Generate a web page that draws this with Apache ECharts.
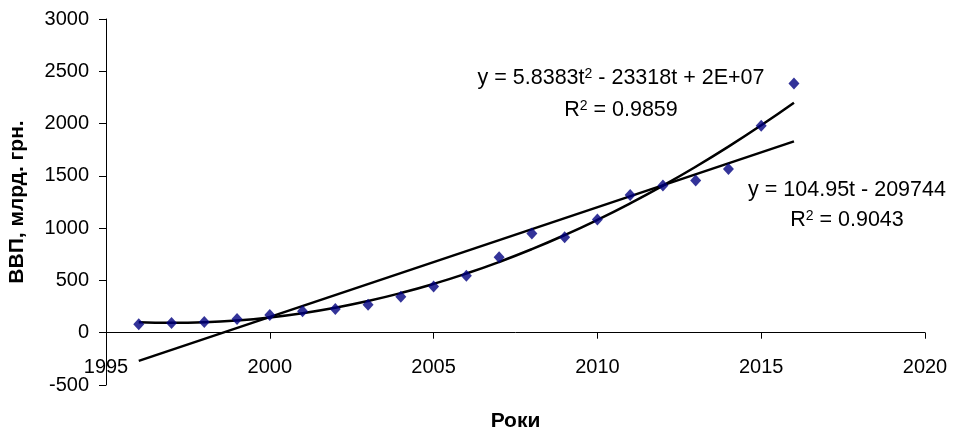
<!DOCTYPE html>
<html>
<head>
<meta charset="utf-8">
<script src="https://cdn.jsdelivr.net/npm/echarts@6/dist/echarts.min.js"></script>
<style>html,body{margin:0;padding:0;background:#fff}#c{width:953px;height:434px}</style>
</head>
<body>
<div id="c"></div>
<script>
// ---- data ----
var years = [1996,1997,1998,1999,2000,2001,2002,2003,2004,2005,2006,2007,2008,2009,2010,2011,2012,2013,2014,2015,2016];
var gdp = [81.5,93.4,102.6,130.4,170.1,204.2,225.8,267.3,345.1,441.5,544.2,720.7,948.1,913.3,1082.6,1316.6,1408.9,1454.9,1566.7,1979.5,2383.2];
var xTicks = [1995, 2020, 5];
var yTicks = [-500, 3000, 500];
var polyEq = ['y = 5.8383t{sup|2} - 23318t + 2E+07', 'R{sup|2} = 0.9859'];
var linEq = ['y = 104.95t - 209744', 'R{sup|2} = 0.9043'];
var xName = 'Роки';
var yName = 'ВВП, млрд. грн.';

// ---- least squares trend lines (computed from data) ----
function solve3(A, b) {
  var M = A.map(function (r, i) { return r.concat([b[i]]); });
  var n = 3;
  for (var i = 0; i < n; i++) {
    var p = i;
    for (var k = i + 1; k < n; k++) if (Math.abs(M[k][i]) > Math.abs(M[p][i])) p = k;
    var t = M[i]; M[i] = M[p]; M[p] = t;
    for (var k2 = i + 1; k2 < n; k2++) {
      var f = M[k2][i] / M[i][i];
      for (var j = i; j <= n; j++) M[k2][j] -= f * M[i][j];
    }
  }
  var x = [0, 0, 0];
  for (var i2 = n - 1; i2 >= 0; i2--) {
    var s = M[i2][n];
    for (var j2 = i2 + 1; j2 < n; j2++) s -= M[i2][j2] * x[j2];
    x[i2] = s / M[i2][i2];
  }
  return x;
}
var t0 = 2006;
var n = years.length;
var S = [0,0,0,0,0], T = [0,0,0];
for (var i = 0; i < n; i++) {
  var u = years[i] - t0;
  for (var p = 0; p < 5; p++) S[p] += Math.pow(u, p);
  for (var q = 0; q < 3; q++) T[q] += gdp[i] * Math.pow(u, q);
}
var slope = (n * T[1] - S[1] * T[0]) / (n * S[2] - S[1] * S[1]);
var icpt = (T[0] - slope * S[1]) / n;
var linData = [years[0], years[n - 1]].map(function (y) { return [y, icpt + slope * (y - t0)]; });
var c = solve3([[S[0], S[1], S[2]], [S[1], S[2], S[3]], [S[2], S[3], S[4]]], [T[0], T[1], T[2]]);
var polyData = years.map(function (y) { var u = y - t0; return [y, c[0] + c[1] * u + c[2] * u * u]; });

var pts = years.map(function (y, i) { return [y, gdp[i]]; });

var FONT = 'Liberation Sans, Arial, sans-serif';
var rich = { sup: { fontSize: 14, fontFamily: FONT, color: '#000', verticalAlign: 'top', lineHeight: 14 } };
function eqText(txt, x, y) {
  return {
    type: 'text', x: x, y: y,
    style: { text: txt, fontSize: 21.5, fontFamily: FONT, fill: '#000', align: 'center', verticalAlign: 'middle', rich: rich }
  };
}

var chart = echarts.init(document.getElementById('c'), null, { renderer: 'canvas' });
chart.setOption({
  backgroundColor: '#fff',
  animation: false,
  grid: { left: 106, right: 28, top: 19, bottom: 49, outerBoundsMode: 'none', containLabel: false },
  xAxis: {
    type: 'value', min: xTicks[0], max: xTicks[1], interval: xTicks[2],
    name: xName, nameLocation: 'middle', nameGap: 26, nameMoveOverlap: false,
    nameTextStyle: { fontSize: 21, fontWeight: 'bold', fontFamily: FONT, color: '#000' },
    axisLine: { onZero: true, lineStyle: { color: '#000', width: 1 } },
    axisTick: { show: true, length: 6, lineStyle: { color: '#000' } },
    axisLabel: { fontSize: 20, fontFamily: FONT, color: '#000', margin: -28, formatter: function (v) { return String(v); } },
    splitLine: { show: false }
  },
  yAxis: {
    type: 'value', min: yTicks[0], max: yTicks[1], interval: yTicks[2],
    name: yName, nameLocation: 'middle', nameGap: 78,
    nameTextStyle: { fontSize: 21, fontWeight: 'bold', fontFamily: FONT, color: '#000' },
    axisLine: { show: true, onZero: false, lineStyle: { color: '#000', width: 1 } },
    axisTick: { show: true, length: 7, lineStyle: { color: '#000' } },
    axisLabel: { fontSize: 20, fontFamily: FONT, color: '#000', margin: 17, formatter: function (v) { return String(v); } },
    splitLine: { show: false }
  },
  series: [
    { type: 'line', data: linData, showSymbol: false, lineStyle: { color: '#000', width: 2.5 }, z: 2 },
    { type: 'line', data: polyData, smooth: true, showSymbol: false, lineStyle: { color: '#000', width: 2.5 }, z: 2 },
    { type: 'scatter', data: pts, symbol: 'diamond', symbolSize: [11, 12], itemStyle: { color: '#000080' }, z: 3 }
  ],
  graphic: [
    eqText(polyEq[0], 621, 78),
    eqText(polyEq[1], 621, 110),
    eqText(linEq[0], 847, 190),
    eqText(linEq[1], 847, 220)
  ]
});
</script>
</body>
</html>
